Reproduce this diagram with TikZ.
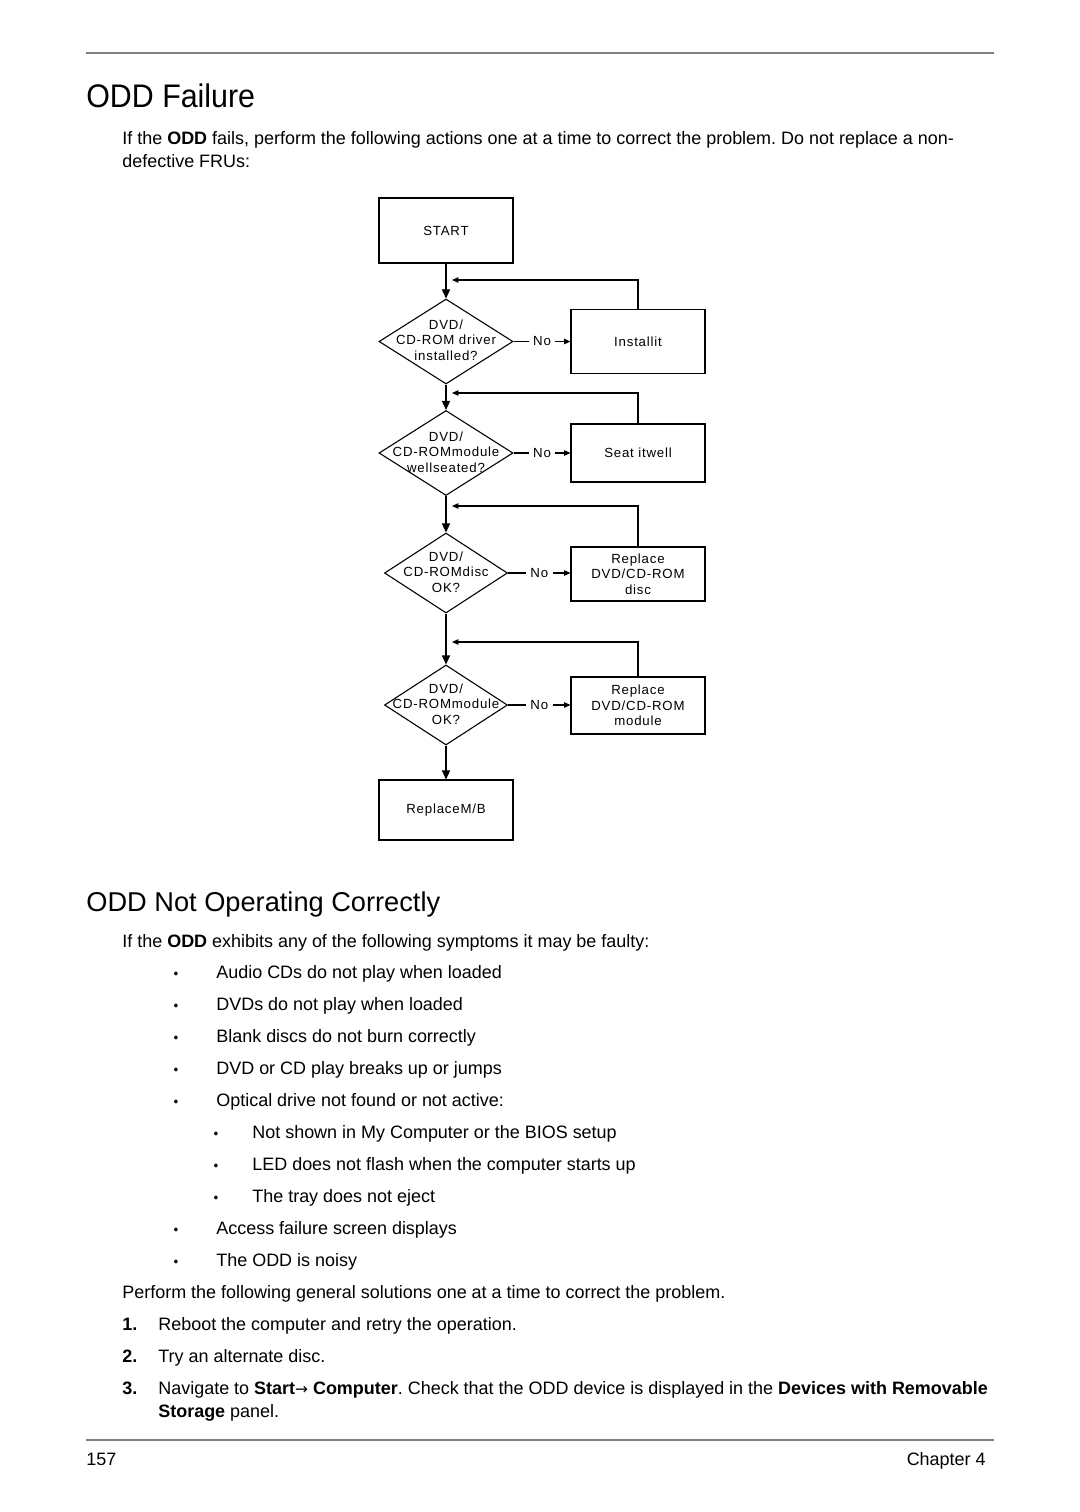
\documentclass[tikz,border=0pt]{standalone}
\usepackage{fontspec}
\setmainfont{Liberation Sans}
\newfontfamily\titlefont{Liberation Sans}[FakeStretch=0.93]
\newfontfamily\chartfont{Liberation Sans}[LetterSpace=6]
\newfontfamily\arrowfont{DejaVu Sans}
\usetikzlibrary{shapes.geometric,arrows.meta}
\newlength{\pxu}\setlength{\pxu}{0.5512pt}
\frenchspacing
\tikzset{
  body/.style={anchor=base west, inner sep=0, font=\fontsize{9.9}{12}\selectfont},
  bul/.style={anchor=base, inner sep=0, font=\fontsize{7.5}{8}\selectfont},
  rule/.style={draw=black!50, line width=1.1pt},
  chart/.style={font=\chartfont\fontsize{7.3}{8.5}\selectfont},
  box/.style={draw, line width=0.6pt, minimum width=134\pxu, inner sep=0, chart, align=center},
  dia/.style={draw, diamond, line width=0.6pt, inner sep=0},
  ctext/.style={chart, align=center, inner sep=0},
  flow/.style={-{Triangle[length=5pt,width=4.5pt]}, line width=0.6pt},
  back/.style={-{Triangle[length=3.5pt,width=3pt]}, line width=0.6pt},
  nolab/.style={fill=white, chart, inner xsep=2.5pt, inner ysep=1pt},
}
\begin{document}
\begin{tikzpicture}[x=\pxu, y=-\pxu]
\useasboundingbox (0,0) rectangle (1080,1512);
\fill[white] (0,0) rectangle (1080,1512);
% rules
\draw[rule] (86,53) -- (994,53);
\draw[rule] (86,1440) -- (994,1440);
% headings and text
\node[anchor=base west, inner sep=0, font=\titlefont\fontsize{18}{20}\selectfont] (h1) at (86,108) {ODD Failure};
\node[body] (p1) at (122,145) {If the \textbf{ODD} fails, perform the following actions one at a time to correct the problem. Do not replace a non-};
\node[body] (p2) at (122,167) {defective FRUs:};

% flowchart
\node[box, minimum height=65\pxu] (start) at (446,230.5) {START};
\node[dia, minimum width=134\pxu, minimum height=85\pxu] (d1) at (446,341.5) {};
\node[ctext] (d1t) at (446,340) {DVD/\\CD-ROM driver\\installed?};
\node[box, minimum height=64\pxu] (inst) at (638,341.5) {Installit};

\node[dia, minimum width=134\pxu, minimum height=85\pxu] (d2) at (446,453) {};
\node[ctext] (d2t) at (446,452) {DVD/\\CD-ROMmodule\\wellseated?};
\node[box, minimum height=58\pxu] (seat) at (638,453) {Seat itwell};

\node[dia, minimum width=123\pxu, minimum height=80\pxu] (d3) at (446,573) {};
\node[ctext] (d3t) at (446,572) {DVD/\\CD-ROMdisc\\OK?};
\node[box, minimum height=54\pxu] (disc) at (638,574) {Replace\\DVD/CD-ROM\\disc};

\node[dia, minimum width=123\pxu, minimum height=80\pxu] (d4) at (446,705) {};
\node[ctext] (d4t) at (446,704) {DVD/\\CD-ROMmodule\\OK?};
\node[box, minimum height=57\pxu] (mod) at (638,705.5) {Replace\\DVD/CD-ROM\\module};

\node[box, minimum height=60\pxu] (mb) at (446,810) {ReplaceM/B};

\draw[flow] (start) -- (d1);
\draw[flow] (d1) -- (d2);
\draw[flow] (d2) -- (d3);
\draw[flow] (d3) -- (d4);
\draw[flow] (d4) -- (mb);

\draw[back] (d1.east) -- node[nolab]{No} (d1.east -| inst.west);
\draw[back] (d2.east) -- node[nolab]{No} (d2.east -| seat.west);
\draw[back] (d3.east) -- node[nolab]{No} (d3.east -| disc.west);
\draw[back] (d4.east) -- node[nolab]{No} (d4.east -| mod.west);

\coordinate (f1) at (452,280);
\coordinate (f2) at (452,393);
\coordinate (f3) at (452,506);
\coordinate (f4) at (452,642);
\draw[back] (inst.north) |- (f1);
\draw[back] (seat.north) |- (f2);
\draw[back] (disc.north) |- (f3);
\draw[back] (mod.north) |- (f4);

% second section
\node[anchor=base west, inner sep=0, font=\fontsize{15}{18}\selectfont] (h2) at (86,911) {ODD Not Operating Correctly};
\node[body] (q1) at (122,947) {If the \textbf{ODD} exhibits any of the following symptoms it may be faulty:};

\node[bul] (b1) at (176,978) {•};   \node[body] (s1) at (216,978) {Audio CDs do not play when loaded};
\node[bul] (b2) at (176,1010) {•};  \node[body] (s2) at (216,1010) {DVDs do not play when loaded};
\node[bul] (b3) at (176,1042) {•};  \node[body] (s3) at (216,1042) {Blank discs do not burn correctly};
\node[bul] (b4) at (176,1074) {•};  \node[body] (s4) at (216,1074) {DVD or CD play breaks up or jumps};
\node[bul] (b5) at (176,1106) {•};  \node[body] (s5) at (216,1106) {Optical drive not found or not active:};
\node[bul] (b6) at (216,1138) {•};  \node[body] (s6) at (252,1138) {Not shown in My Computer or the BIOS setup};
\node[bul] (b7) at (216,1170) {•};  \node[body] (s7) at (252,1170) {LED does not flash when the computer starts up};
\node[bul] (b8) at (216,1202) {•};  \node[body] (s8) at (252,1202) {The tray does not eject};
\node[bul] (b9) at (176,1234) {•};  \node[body] (s9) at (216,1234) {Access failure screen displays};
\node[bul] (b10) at (176,1266) {•}; \node[body] (s10) at (216,1266) {The ODD is noisy};

\node[body] (r0) at (122,1298) {Perform the following general solutions one at a time to correct the problem.};
\node[body] (n1) at (122,1330) {\textbf{1.}}; \node[body] (r1) at (158,1330) {Reboot the computer and retry the operation.};
\node[body] (n2) at (122,1362) {\textbf{2.}}; \node[body] (r2) at (158,1362) {Try an alternate disc.};
\node[body] (n3) at (122,1394) {\textbf{3.}}; \node[body] (r3) at (158,1394) {Navigate to \textbf{Start}{\arrowfont\fontsize{8.5}{10}\selectfont →} \textbf{Computer}. Check that the ODD device is displayed in the \textbf{Devices with Removable}};
\node[body] (r4) at (158,1417) {\textbf{Storage} panel.};

% footer
\node[body] (pg) at (86,1465) {157};
\node[anchor=base east, inner sep=0, font=\fontsize{9.9}{12}\selectfont] (ch) at (986,1465) {Chapter 4};
\end{tikzpicture}
\end{document}
